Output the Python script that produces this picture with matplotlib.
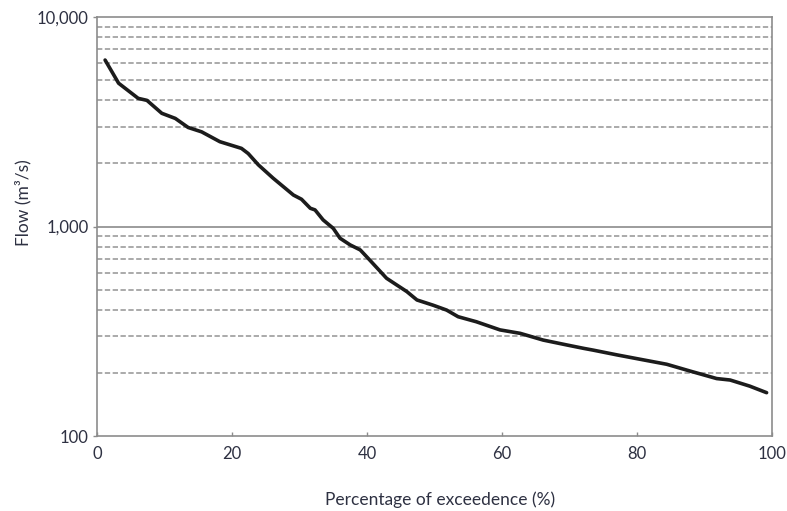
import matplotlib.pyplot as plt
from matplotlib.ticker import FixedLocator, NullFormatter

# flow duration curve
exceed = [1.2, 3.2, 6.1, 7.4, 9.6, 11.6, 13.5, 15.5, 18.2, 21.4, 22.4, 23.9,
          26.1, 29.1, 30.3, 31.6, 32.3, 33.5, 35.0, 36.0, 37.5, 39.0, 40.4,
          42.9, 44.4, 45.9, 47.4, 49.8, 51.8, 53.5, 56.2, 59.7, 62.7, 66.1,
          69.6, 72.1, 73.5, 77.0, 80.9, 84.4, 87.9, 91.8, 93.8, 96.7, 99.2]
flow = [6230, 4830, 4090, 4000, 3470, 3280, 2970, 2830, 2540, 2360, 2230, 1970,
        1700, 1413, 1349, 1222, 1200, 1075, 980, 879, 817, 773, 692,
        566, 526, 489, 446, 421, 399, 371, 351, 321, 309, 287,
        272, 262, 257, 244, 231, 220, 204, 188, 185, 173, 161]

x_ticks = [0, 20, 40, 60, 80, 100]
y_ticks = [100, 1000, 10000]
y_tick_labels = ['100', '1,000', '10,000']
y_minor = [200, 300, 400, 500, 600, 700, 800, 900,
           2000, 3000, 4000, 5000, 6000, 7000, 8000, 9000]

plt.rcParams['font.family'] = ['Lato', 'DejaVu Sans']
txt = '#2e3142'
grid = '#9c9c9c'

fig = plt.figure(figsize=(7.87, 5.11), dpi=100)
ax = fig.add_axes([97/787, 1-436/511, 675/787, 419/511])

ax.set_yscale('log')
ax.set_xlim(0, 100)
ax.set_ylim(100, 10000)

ax.hlines(y_minor, 0, 100, colors=grid, linewidth=1.2,
          linestyles=(0, (3.2, 1.5)), zorder=1)
ax.axhline(1000, color=grid, linewidth=1.4, zorder=1)

ax.plot(exceed, flow, color='#1c1c1c', linewidth=2.6, zorder=3,
        solid_capstyle='round', solid_joinstyle='round')

ax.xaxis.set_major_locator(FixedLocator(x_ticks))
ax.yaxis.set_major_locator(FixedLocator(y_ticks))
ax.set_yticklabels(y_tick_labels)
ax.yaxis.set_minor_locator(FixedLocator([]))
ax.yaxis.set_minor_formatter(NullFormatter())

ax.tick_params(axis='x', direction='in', length=3, width=1, color='#8c8c8c',
               labelsize=12, labelcolor=txt, pad=7)
ax.tick_params(axis='y', direction='out', length=3, width=1, color='#8c8c8c',
               labelsize=12, labelcolor=txt, pad=3)

for s in ax.spines.values():
    s.set_color('#8c8c8c')
    s.set_linewidth(1.2)

ax.set_xlabel('Percentage of exceedence (%)', fontsize=12.5, color=txt)
ax.xaxis.set_label_coords(0.508, -0.133)
ax.set_ylabel('Flow (m³/s)', fontsize=12.5, color=txt)
ax.yaxis.set_label_coords(-0.097, 0.556)

fig.savefig('out.png', dpi=100)
